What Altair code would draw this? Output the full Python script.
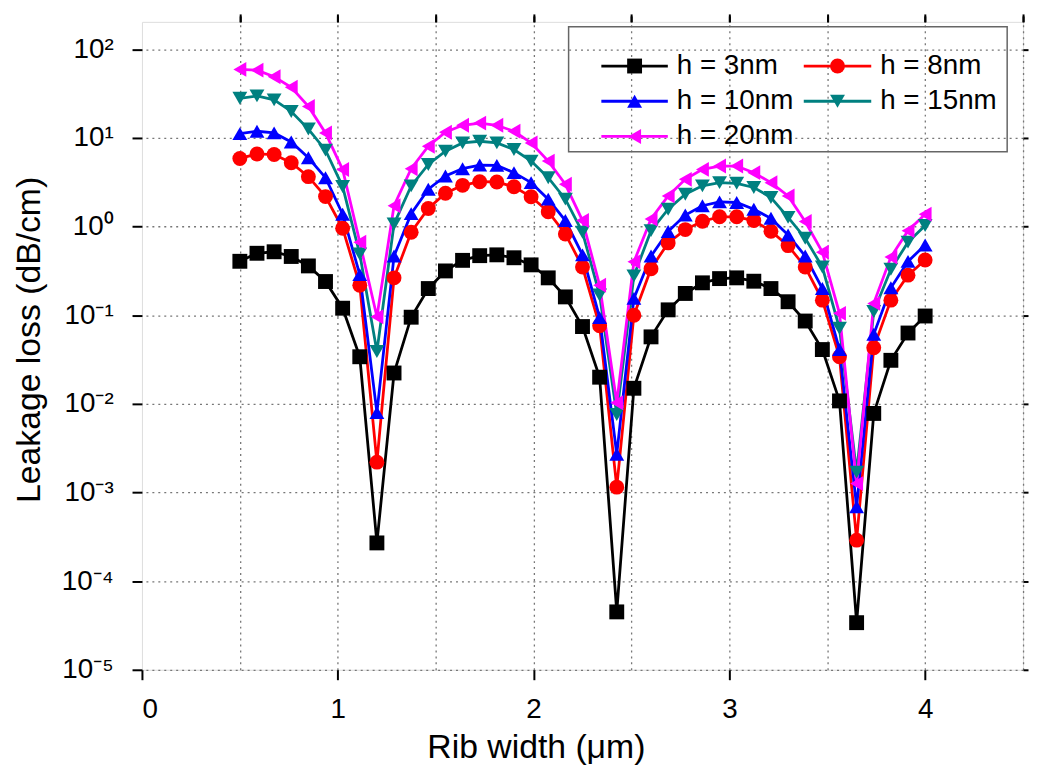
import altair as alt
import pandas as pd

rib_width = [0.5, 0.5875, 0.675, 0.7625, 0.85, 0.9375, 1.025, 1.1125, 1.2, 1.2875,
             1.375, 1.4625, 1.55, 1.6375, 1.725, 1.8125, 1.9, 1.9875, 2.075, 2.1625,
             2.25, 2.3375, 2.425, 2.5125, 2.6, 2.6875, 2.775, 2.8625, 2.95, 3.0375,
             3.125, 3.2125, 3.3, 3.3875, 3.475, 3.5625, 3.65, 3.7375, 3.825, 3.9125, 4.0]

series_names = ["h = 3nm", "h = 8nm", "h = 10nm", "h = 15nm", "h = 20nm"]

loss_3nm = [0.406, 0.50, 0.52, 0.46, 0.36, 0.24, 0.12, 0.034, 2.7e-4, 0.0223,
            0.095, 0.20, 0.316, 0.416, 0.47, 0.48, 0.445, 0.37, 0.264, 0.161,
            0.0745, 0.020, 4.5e-5, 0.015, 0.057, 0.115, 0.176, 0.232, 0.259, 0.264,
            0.242, 0.20, 0.142, 0.086, 0.041, 0.0108, 3.4e-5, 0.0078, 0.031, 0.063, 0.098]
loss_8nm = [5.87, 6.6, 6.5, 5.25, 3.66, 2.18, 0.957, 0.218, 2.2e-3, 0.264,
            0.863, 1.60, 2.38, 2.92, 3.21, 3.19, 2.81, 2.17, 1.47, 0.826,
            0.35, 0.076, 1.15e-3, 0.10, 0.335, 0.655, 0.925, 1.15, 1.29, 1.29,
            1.17, 0.886, 0.61, 0.35, 0.148, 0.034, 2.9e-4, 0.043, 0.148, 0.283, 0.42]
loss_10nm = [11.2, 11.9, 11.4, 9.0, 5.97, 3.56, 1.38, 0.287, 7.97e-3, 0.465,
             1.40, 2.64, 3.72, 4.5, 4.95, 4.9, 4.06, 3.13, 2.04, 1.17,
             0.48, 0.094, 2.7e-3, 0.155, 0.465, 0.88, 1.35, 1.72, 1.9, 1.87,
             1.57, 1.24, 0.805, 0.465, 0.20, 0.041, 6.9e-4, 0.061, 0.204, 0.405, 0.62]
loss_15nm = [28, 29.8, 26.9, 19.9, 12.6, 7.28, 2.83, 0.49, 0.039, 1.07,
             2.88, 5.02, 7.1, 8.79, 9.18, 8.79, 7.4, 5.48, 3.56, 2.04,
             0.863, 0.169, 7.6e-3, 0.278, 0.90, 1.57, 2.32, 2.88, 3.13, 3.08,
             2.76, 2.13, 1.27, 0.74, 0.35, 0.0713, 1.7e-3, 0.11, 0.33, 0.667, 1.03]
loss_20nm = [59.3, 58.2, 49, 37.3, 22.7, 11.4, 4.4, 0.667, 0.096, 1.72,
             4.5, 8.07, 11.6, 13.9, 14.7, 13.9, 11.9, 8.79, 5.48, 3.0,
             1.17, 0.218, 0.0103, 0.40, 1.22, 2.22, 3.41, 4.42, 4.82, 4.82,
             4.06, 3.13, 2.22, 1.14, 0.515, 0.105, 1.26e-3, 0.136, 0.453, 0.90, 1.38]

x_ticks_major = [0, 1, 2, 3, 4]
x_ticks_minor = [0.5, 1, 1.5, 2, 2.5, 3, 3.5, 4, 4.5]
y_ticks = [1e-5, 1e-4, 1e-3, 1e-2, 1e-1, 1e0, 1e1, 1e2]

colors = ["#000000", "#ff0000", "#0000ff", "#008080", "#ff00ff"]
shapes = ["square", "circle", "triangle-up", "triangle-down", "triangle-left"]

rows = []
for name, vals in zip(series_names, [loss_3nm, loss_8nm, loss_10nm, loss_15nm, loss_20nm]):
    for xv, yv in zip(rib_width, vals):
        rows.append({"x": xv, "v": yv, "series": name})
df = pd.DataFrame(rows)
legend_df = pd.DataFrame({"series": series_names, "idx": list(range(len(series_names)))})

FONT = "Liberation Sans"
x_scale = alt.Scale(domain=[0, 4.5], nice=False, zero=False)
y_scale = alt.Scale(type="log", domain=[1e-5, 204], nice=False)
sup_expr = ("['10\u207b\u2075','10\u207b\u2074','10\u207b\u00b3','10\u207b\u00b2','10\u207b\u00b9',"
            "'10\u2070','10\u00b9','10\u00b2'][round(log(datum.value)/LN10)+5]")

color_enc = alt.Color("series:N", scale=alt.Scale(domain=series_names, range=colors), legend=None)
shape_enc = alt.Shape("series:N", scale=alt.Scale(domain=series_names, range=shapes), legend=None)

base = alt.Chart(df)

lines = base.mark_line(strokeWidth=2.8).encode(
    x=alt.X("x:Q", scale=x_scale,
            axis=alt.Axis(values=x_ticks_major, format="d", tickSize=10, tickWidth=2,
                          tickColor="black", domain=False, grid=False,
                          labelFontSize=28, labelFont=FONT, labelColor="black",
                          labelPadding=16, title="Rib width (\u03bcm)", titleFont=FONT,
                          titleFontSize=34, titleFontWeight="normal", titleColor="black",
                          titlePadding=7, titleX=397, titleAlign="center")),
    y=alt.Y("v:Q", scale=y_scale,
            axis=alt.Axis(values=y_ticks, labelExpr=sup_expr, tickSize=10, tickWidth=2,
                          tickColor="black", domain=False, grid=False,
                          labelFontSize=28, labelFont=FONT, labelColor="black",
                          labelPadding=19, title="Leakage loss (dB/cm)", titleFont=FONT,
                          titleFontSize=34, titleFontWeight="normal", titleColor="black",
                          titlePadding=15, titleY=320)),
    color=color_enc,
    detail="series:N",
)

points = base.mark_point(filled=True, size=225, opacity=1).encode(
    x=alt.X("x:Q", scale=x_scale,
            axis=alt.Axis(values=x_ticks_minor, labels=False, tickSize=6, tickWidth=2,
                          tickColor="black", domain=False, grid=True, gridDash=[2, 4],
                          gridColor="#777777", gridWidth=1.3, title=None)),
    y=alt.Y("v:Q", scale=y_scale,
            axis=alt.Axis(orient="right", values=y_ticks, labels=False, tickSize=5, tickWidth=2,
                          tickColor="black", domain=False, grid=True, gridDash=[2, 4],
                          gridColor="#777777", gridWidth=1.3, title=None)),
    color=color_enc,
    shape=shape_enc,
)

top_axis = base.transform_filter("datum.x < 0").mark_point(opacity=0).encode(
    x=alt.X("x:Q", scale=x_scale,
            axis=alt.Axis(orient="top", values=x_ticks_minor, labels=False, tickSize=8, tickWidth=2,
                          tickColor="black", domain=False, grid=False, title=None)),
    y=alt.Y("v:Q", scale=y_scale, axis=None),
)

# manual legend: two columns, row-major order
leg = alt.Chart(legend_df).transform_calculate(
    col="datum.idx % 2",
    row="floor(datum.idx / 2)",
).transform_calculate(
    lx1="463 + datum.col * 204",
    lx2="530 + datum.col * 205",
    lxm="496.5 + datum.col * 204.5",
    ltx="539 + datum.col * 205",
    ly="44.5 + datum.row * 35.5",
)

leg_box = alt.Chart(pd.DataFrame({"box": [0]})).mark_rect(
    fill=None, stroke="#666666", strokeWidth=1.5
).encode(x=alt.value(430), x2=alt.value(872), y=alt.value(5), y2=alt.value(131))

leg_lines = leg.mark_rule(strokeWidth=2.8).encode(
    x=alt.X("lx1:Q", scale=None, axis=None), x2="lx2:Q",
    y=alt.Y("ly:Q", scale=None, axis=None),
    color=color_enc,
)
leg_points = leg.mark_point(filled=True, size=225, opacity=1).encode(
    x=alt.X("lxm:Q", scale=None, axis=None),
    y=alt.Y("ly:Q", scale=None, axis=None),
    color=color_enc,
    shape=shape_enc,
)
leg_text = leg.mark_text(align="left", baseline="middle", font=FONT, fontSize=28,
                         color="black").encode(
    x=alt.X("ltx:Q", scale=None, axis=None),
    y=alt.Y("ly:Q", scale=None, axis=None),
    text="series:N",
)

chart = alt.layer(lines, points, top_axis, leg_box, leg_lines, leg_points, leg_text).resolve_axis(
    x="independent", y="independent"
).properties(
    width=888, height=653,
    padding={"left": 4, "top": 2, "right": 0, "bottom": 0},
).configure_view(stroke="black", strokeWidth=2).configure(background="white")

chart.save("out.html", embed_options={"renderer": "svg", "actions": False})
